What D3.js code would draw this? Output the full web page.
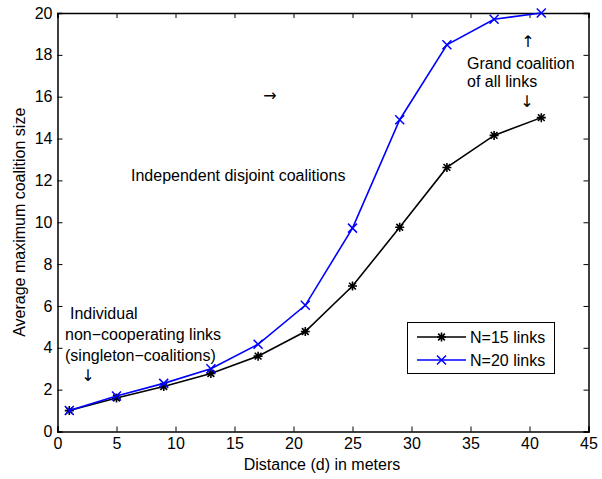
<!DOCTYPE html>
<html>
<head>
<meta charset="utf-8">
<script src="https://cdn.jsdelivr.net/npm/d3@7"></script>
<style>
  body { margin: 0; background: #fff; }
  svg { display: block; font-family: "Liberation Sans", Arial, Helvetica, sans-serif; }
</style>
</head>
<body>
<svg id="chart" width="602" height="479"></svg>
<script>
// Distance (m) and average maximum coalition size for two network sizes
const distances = [1, 5, 9, 13, 17, 21, 25, 29, 33, 37, 41];
const n15 = [1.0, 1.6, 2.15, 2.77, 3.6, 4.78, 6.95, 9.76, 12.62, 14.15, 15.0];
const n20 = [1.0, 1.7, 2.3, 3.0, 4.17, 6.03, 9.72, 14.9, 18.48, 19.7, 20.0];
const seriesNames = ["N=15 links", "N=20 links"];
const xTicks = [0, 5, 10, 15, 20, 25, 30, 35, 40, 45];
const yTicks = [0, 2, 4, 6, 8, 10, 12, 14, 16, 18, 20];

const svg = d3.select("#chart");
const m = { left: 57.5, right: 588.5, top: 13, bottom: 431.5 };

const x = d3.scaleLinear().domain([0, 45]).range([m.left, m.right]);
const y = d3.scaleLinear().domain([0, 20]).range([m.bottom, m.top]);

const tickLen = 5;
const fontSize = 16;
const arrowFont = "DejaVu Sans, sans-serif";

// Axes with inward ticks on all four sides
const gx = svg.append("g").attr("transform", `translate(0,${m.bottom})`)
  .call(d3.axisBottom(x).tickValues(xTicks).tickSize(-tickLen).tickPadding(6).tickFormat(d3.format("d")));
const gxTop = svg.append("g").attr("transform", `translate(0,${m.top})`)
  .call(d3.axisTop(x).tickValues(xTicks).tickSize(-tickLen).tickFormat(""));
const gy = svg.append("g").attr("transform", `translate(${m.left},0)`)
  .call(d3.axisLeft(y).tickValues(yTicks).tickSize(-tickLen).tickPadding(5).tickFormat(d3.format("d")));
const gyRight = svg.append("g").attr("transform", `translate(${m.right},0)`)
  .call(d3.axisRight(y).tickValues(yTicks).tickSize(-tickLen).tickFormat(""));

[gx, gxTop, gy, gyRight].forEach(g => {
  g.select(".domain").attr("stroke", "#000").attr("stroke-width", 1.5);
  g.selectAll(".tick line").attr("stroke", "#000").attr("stroke-width", 1);
  g.selectAll(".tick text").attr("fill", "#000").attr("font-size", fontSize)
    .attr("font-family", "Liberation Sans, Arial, sans-serif");
});

// Axis titles
svg.append("text").attr("x", 322).attr("y", 470)
  .attr("text-anchor", "middle").attr("font-size", fontSize).text("Distance (d) in meters");
svg.append("text").attr("transform", `translate(25,${(m.top + m.bottom) / 2}) rotate(-90)`)
  .attr("text-anchor", "middle").attr("font-size", fontSize)
  .text("Average maximum coalition size");

// Lines
const line = d3.line().x((d, i) => x(distances[i])).y(d => y(d));
const series = [
  { name: seriesNames[0], values: n15, color: "#000000", marker: "star" },
  { name: seriesNames[1], values: n20, color: "#0000ff", marker: "x" }
];

function drawMarker(g, type, cx, cy, color) {
  const r = 4.5;
  if (type === "x") {
    g.append("path").attr("d", `M${cx - r},${cy - r}L${cx + r},${cy + r}M${cx - r},${cy + r}L${cx + r},${cy - r}`)
      .attr("stroke", color).attr("stroke-width", 1.5).attr("fill", "none");
  } else {
    const d = r * 0.75;
    g.append("path").attr("d",
      `M${cx - r},${cy}L${cx + r},${cy}M${cx},${cy - r}L${cx},${cy + r}` +
      `M${cx - d},${cy - d}L${cx + d},${cy + d}M${cx - d},${cy + d}L${cx + d},${cy - d}`)
      .attr("stroke", color).attr("stroke-width", 1.6).attr("fill", "none");
  }
}

series.forEach(s => {
  svg.append("path").datum(s.values).attr("d", line)
    .attr("fill", "none").attr("stroke", s.color).attr("stroke-width", 1.6);
  const g = svg.append("g");
  s.values.forEach((v, i) => drawMarker(g, s.marker, x(distances[i]), y(v), s.color));
});

// Annotations
const ann = svg.append("g").attr("font-size", fontSize).attr("fill", "#000");
const arrow = (ax, ay, ch) => ann.append("text").attr("x", ax).attr("y", ay)
  .attr("text-anchor", "middle").attr("font-family", arrowFont).attr("font-size", 16).text(ch);
arrow(528, 47, "↑");
ann.append("text").attr("x", 467).attr("y", 69).text("Grand coalition");
ann.append("text").attr("x", 467).attr("y", 87).text("of all links");
arrow(527, 107, "↓");
arrow(270, 101, "→");
ann.append("text").attr("x", 131).attr("y", 181).text("Independent disjoint coalitions");
ann.append("text").attr("x", 70).attr("y", 319).text("Individual");
ann.append("text").attr("x", 65).attr("y", 340).text("non−cooperating links");
ann.append("text").attr("x", 65).attr("y", 361).text("(singleton−coalitions)");
arrow(88, 381, "↓");

// Legend
const lg = svg.append("g");
lg.append("rect").attr("x", 407.5).attr("y", 322.5).attr("width", 147).attr("height", 51)
  .attr("fill", "#fff").attr("stroke", "#000").attr("stroke-width", 1);
series.forEach((s, i) => {
  const ly = 337 + i * 23;
  lg.append("line").attr("x1", 417).attr("x2", 466).attr("y1", ly).attr("y2", ly)
    .attr("stroke", s.color).attr("stroke-width", 1.6);
  drawMarker(lg, s.marker, 441.5, ly, s.color);
  lg.append("text").attr("x", 470).attr("y", ly + 5.5).attr("font-size", fontSize).text(s.name);
});
</script>
</body>
</html>
